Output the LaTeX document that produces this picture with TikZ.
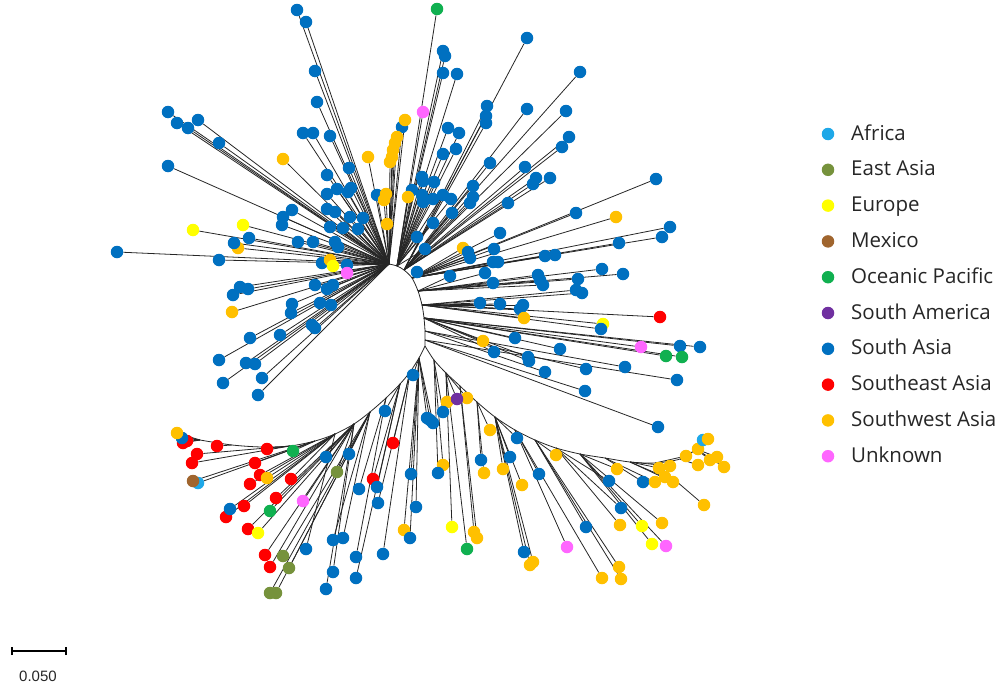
\documentclass[tikz,border=0pt]{standalone}
\usepackage{fontspec}
\setmainfont{Open Sans}
\newfontfamily\arialfont{Liberation Sans}
\usetikzlibrary{backgrounds}
\definecolor{af}{HTML}{1EA8E8}
\definecolor{ea}{HTML}{76923C}
\definecolor{eu}{HTML}{FFFF00}
\definecolor{mx}{HTML}{A0652E}
\definecolor{op}{HTML}{10B050}
\definecolor{sam}{HTML}{7030A0}
\definecolor{sas}{HTML}{0070C0}
\definecolor{sea}{HTML}{FF0000}
\definecolor{swa}{HTML}{FFC000}
\definecolor{unk}{HTML}{FF66FF}
\tikzset{
  leaf/.style={circle, inner sep=0pt, minimum size=12.5pt, draw=none},
  branch/.style={line width=0.8pt, draw=black!85},
  legtext/.style={anchor=base west, inner sep=0pt, font=\fontsize{20.5}{24}\selectfont, text=black!85},
}
\def\leaves{297/10/sas/U0,306/22/sas/U0,315/71/sas/U0,317/102/sas/U0,168/112/sas/U0,177/123/sas/U0,188/128/sas/U0,198/120/sas/U0,219/143/sas/U0,168/166/sas/U0,
303/133/sas/U0,313/133/sas/U0,330/136/sas/U0,349/168/sas/U0,327/175/sas/U0,327/194/sas/U0,337/189/sas/U0,348/192/sas/U0,351/188/sas/U0,377/195/sas/U0,
292/210/sas/U0,283/217/sas/U0,282/225/sas/U0,327/209/sas/U0,335/212/sas/U0,350/217/sas/U0,363/218/sas/U0,330/227/sas/U0,343/228/sas/U0,358/229/sas/U0,
298/242/sas/U0,313/242/sas/U0,335/242/sas/U0,338/247/sas/U0,322/263/sas/U0,347/265/sas/U0,238/248/swa/U0,234/243/sas/U0,249/238/sas/U0,117/252/sas/U0,219/260/sas/U0,
240/287/sas/U0,248/289/sas/U0,233/295/sas/U0,315/285/sas/U0,327/289/sas/U0,333/285/sas/U0,320/303/sas/U0,331/305/sas/U0,292/304/sas/U0,291/313/sas/U0,
312/325/sas/U0,315/328/sas/U0,250/338/sas/U0,280/335/sas/U0,219/360/sas/U0,246/363/sas/U0,255/364/sas/U0,262/378/sas/U0,223/383/sas/U0,258/395/sas/U0,
283/159/swa/U0,368/157/swa/U0,402/127/sas/U0,405/120/swa/U0,397/137/swa/U0,395/143/swa/U0,393/150/swa/U0,392/157/swa/U0,390/162/swa/U0,
386/194/swa/U0,384/200/swa/U0,387/224/swa/U0,232/312/swa/U0,330/260/swa/U0,193/230/eu/U0,243/225/eu/U0,333/266/eu/U0,347/273/unk/U0,
437/9/op/U1,423/112/unk/U1,443/51/sas/U1,445/56/sas/U1,443/73/sas/U1,457/74/sas/U1,448/128/sas/U1,459/133/sas/U1,443/154/sas/U1,456/149/sas/U1,
422/177/sas/U1,423/181/sas/U1,434/182/sas/U1,412/190/sas/U1,408/197/swa/U1,422/195/sas/U1,423/202/sas/U1,433/199/sas/U1,443/195/sas/U1,451/199/sas/U1,
433/223/sas/U1,417/237/sas/U1,425/249/sas/U1,
527/38/sas/R1,580/72/sas/R1,487/106/sas/R1,486/116/sas/R1,486/123/sas/R1,527/109/sas/R1,566/111/sas/R1,569/137/sas/R1,562/147/sas/R1,490/163/sas/R1,
525/167/sas/R1,536/178/sas/R1,533/184/sas/R1,550/178/sas/R1,473/186/sas/R1,473/197/sas/R1,470/203/sas/R1,452/213/sas/R1,508/203/sas/R1,
656/179/sas/R2,576/213/sas/R2,616/217/swa/R2,670/227/sas/R2,662/237/sas/R2,500/233/sas/R2,619/243/sas/R2,494/249/sas/R2,463/248/swa/R2,468/252/sas/R2,
470/258/sas/R2,545/256/sas/R2,555/255/sas/R2,493/262/sas/R2,498/262/sas/R2,417/272/sas/R2,
450/276/sas/R3,485/273/sas/R3,493/283/sas/R3,538/275/sas/R3,540/280/sas/R3,543/285/sas/R3,578/279/sas/R3,602/269/sas/R3,623/274/sas/R3,
576/290/sas/R4,582/293/sas/R4,480/303/sas/R4,500/304/sas/R4,523/305/sas/R4,520/309/sas/R4,524/318/swa/R4,660/317/sea/R4,603/324/eu/R4,601/329/sas/R4,
483/341/swa/R5,515/338/sas/R5,494/352/sas/R5,528/357/sas/R5,529/361/sas/R5,560/349/sas/R5,641/347/unk/R5,680/346/sas/R5,700/347/sas/R5,666/356/op/R5,682/357/op/R5,
545/372/sas/R6,586/369/sas/R6,625/367/sas/R6,677/380/sas/R7,585/391/sas/R7,658/427/sas/R7,
413/375/sas/L1,385/411/sas/L3,393/443/sea/L2,349/454/sas/L5,373/479/sea/L3,377/487/sas/L3,359/489/sas/L4,378/503/sas/L2,411/474/sas/L1,416/507/sas/L1,
404/530/swa/L1,410/538/sas/L1,333/540/sas/L5,343/538/sas/L5,356/557/sas/L4,383/554/sas/L2,333/572/sas/L6,356/578/sas/L3,326/589/sas/L6,306/549/sas/L7,
326/457/sas/L6,337/472/ea/L6,427/418/sas/L1,433/423/sas/L1,430/420/sas/L1,
183/443/sea/L12,187/441/sea/L12,182/438/sas/L12,177/433/swa/L12,217/446/sea/L11,267/449/sea/L9,293/451/op/L8,197/454/sea/L9,192/463/sea/L9,
255/463/sea/L8,260/475/sea/L7,267/478/swa/L7,250/484/sea/L7,291/479/sea/L7,198/483/af/L8,193/481/mx/L8,276/498/sea/L6,303/501/unk/L6,
244/506/sea/L7,226/517/sea/L7,230/509/sas/L7,270/511/op/L6,248/529/sea/L6,258/533/eu/L6,265/555/sea/L6,270/567/sea/L6,283/556/ea/L5,289/568/ea/L5,
270/593/ea/L5,276/593/ea/L5,
447/402/swa/Q2,467/398/swa/Q2,457/399/sam/Q2,443/412/sas/Q1,443/465/swa/Q1,438/473/sas/Q1,452/527/eu/Q2,474/532/swa/Q3,477/538/swa/Q3,467/549/op/Q2,
481/460/sas/Q4,490/430/swa/Q4,510/457/sas/Q5,484/473/swa/Q4,503/469/swa/Q5,517/438/sas/Q5,539/474/sas/Q6,522/485/swa/Q5,524/552/sas/Q5,533/562/swa/Q5,
530/565/swa/Q5,556/455/swa/Q7,567/547/unk/Q6,586/527/sas/Q7,602/578/swa/Q6,619/567/swa/Q7,621/579/swa/Q7,617/469/swa/Q9,609/481/sas/Q8,620/525/swa/Q8,
621/508/sas/Q8,642/526/eu/Q9,643/482/sas/Q10,655/482/swa/Q10,662/523/swa/Q9,652/544/eu/Q9,666/546/unk/Q9,659/468/swa/Q11,670/466/swa/Q11,665/477/swa/Q11,
673/482/swa/Q11,686/456/swa/Q12,698/449/swa/Q13,698/465/swa/Q13,703/440/af/Q14,708/439/swa/Q14,710/460/swa/Q14,717/457/swa/Q14,724/467/swa/Q14,704/505/swa/Q12}
\begin{document}
\begin{tikzpicture}[x=1pt,y=-1pt]
\useasboundingbox (0,0) rectangle (1004,688);
% backbone points
\coordinate (U0) at (389,264); \coordinate (U1) at (397,266);
\coordinate (R1) at (404,270); \coordinate (R2) at (412,278); \coordinate (R3) at (418,291);
\coordinate (R4) at (422,305); \coordinate (R5) at (424,318); \coordinate (R6) at (425,331);
\coordinate (R7) at (425,340); \coordinate (S) at (425,346);
\coordinate (L1) at (419,358); \coordinate (L2) at (410,372); \coordinate (L3) at (400,384);
\coordinate (L4) at (386,398); \coordinate (L5) at (370,412); \coordinate (L6) at (354,424);
\coordinate (L7) at (335,434); \coordinate (L8) at (315,441); \coordinate (L9) at (290,446);
\coordinate (L10) at (262,447); \coordinate (L11) at (232,445); \coordinate (L12) at (200,440);
\coordinate (LE) at (186,437);
\coordinate (Q1) at (434,360); \coordinate (Q2) at (446,373); \coordinate (Q3) at (460,386);
\coordinate (Q4) at (477,402); \coordinate (Q5) at (495,417); \coordinate (Q6) at (515,430);
\coordinate (Q7) at (535,440); \coordinate (Q8) at (556,448); \coordinate (Q9) at (580,454);
\coordinate (Q10) at (605,458); \coordinate (Q11) at (630,462); \coordinate (Q12) at (655,463);
\coordinate (Q13) at (680,459); \coordinate (Q14) at (696,449); \coordinate (QE) at (706,438);
% leaves
\foreach \x/\y/\c/\r [count=\i] in \leaves {\node[leaf,fill=\c] (n\i) at (\x,\y) {};}
\begin{scope}[on background layer]
\draw[branch] plot[smooth] coordinates {(U0) (U1) (R1) (R2) (R3) (R4) (R5) (R6) (R7) (S)};
\draw[branch] plot[smooth] coordinates {(S) (L1) (L2) (L3) (L4) (L5) (L6) (L7) (L8) (L9) (L10) (L11) (L12) (LE)};
\draw[branch] plot[smooth] coordinates {(S) (Q1) (Q2) (Q3) (Q4) (Q5) (Q6) (Q7) (Q8) (Q9) (Q10) (Q11) (Q12) (Q13) (Q14) (QE)};
\foreach \x/\y/\c/\r [count=\i] in \leaves {\draw[branch] (\r) -- (n\i);}
\end{scope}
% legend
\foreach \c/\t [count=\i] in {af/Africa,ea/East Asia,eu/Europe,mx/Mexico,op/Oceanic Pacific,sam/South America,sas/South Asia,sea/Southeast Asia,swa/Southwest Asia,unk/Unknown}{
  \node[leaf,fill=\c] (k\i) at (828,{134+35.8*(\i-1)}) {};
  \node[legtext] (t\i) at (851,{140+35.8*(\i-1)}) {\t};
}
% scale bar
\coordinate (s1) at (12,651); \coordinate (s2) at (66,651);
\draw[line width=1.3pt] (s1) -- (s2);
\draw[line width=1.3pt] ([yshift=-4pt]s1) -- ([yshift=4pt]s1);
\draw[line width=1.3pt] ([yshift=-4pt]s2) -- ([yshift=4pt]s2);
\node[font=\arialfont\fontsize{15}{18}\selectfont, text=black!85] (sl) at (38,676) {0.050};
\end{tikzpicture}
\end{document}
